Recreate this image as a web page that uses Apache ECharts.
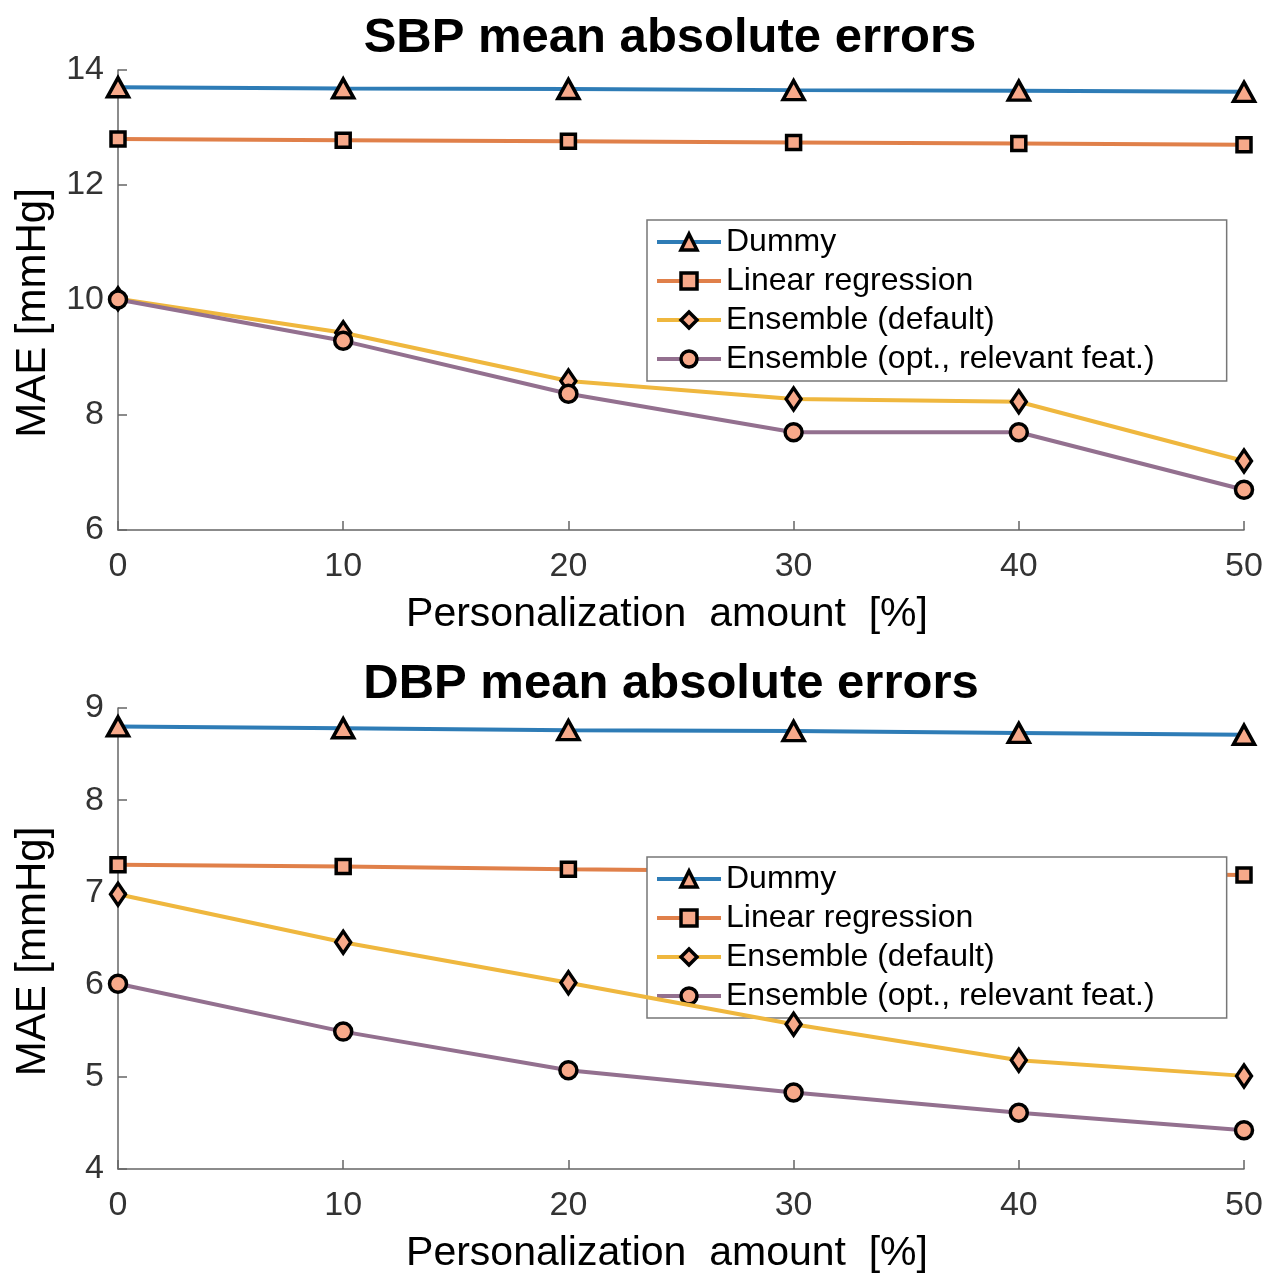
<!DOCTYPE html>
<html>
<head>
<meta charset="utf-8">
<script src="https://cdn.jsdelivr.net/npm/echarts@6/dist/echarts.min.js"></script>
<style>html,body{margin:0;padding:0;background:#fff}#c{width:1271px;height:1275px}</style>
</head>
<body>
<div id="c"></div>
<script>
const xValues = [0, 10, 20, 30, 40, 50];
const seriesNames = ['Dummy', 'Linear regression', 'Ensemble (default)', 'Ensemble (opt., relevant feat.)'];
// SBP panel
const sbpDummy = [13.70, 13.68, 13.67, 13.65, 13.64, 13.62];
const sbpLinear = [12.80, 12.78, 12.76, 12.74, 12.72, 12.70];
const sbpEnsDefault = [10.02, 9.43, 8.59, 8.28, 8.23, 7.20];
const sbpEnsOpt = [10.01, 9.29, 8.37, 7.70, 7.70, 6.70];
// DBP panel
const dbpDummy = [8.80, 8.78, 8.76, 8.75, 8.73, 8.71];
const dbpLinear = [7.30, 7.28, 7.25, 7.23, 7.21, 7.19];
const dbpEnsDefault = [6.98, 6.46, 6.02, 5.57, 5.18, 5.01];
const dbpEnsOpt = [6.01, 5.49, 5.07, 4.83, 4.61, 4.42];
const xTicks = [0, 10, 20, 30, 40, 50];
const sbpYTicks = [6, 8, 10, 12, 14];
const dbpYTicks = [4, 5, 6, 7, 8, 9];

const colors = ['#2e7cb6', '#e0804a', '#efb73e', '#93708f'];
const symbols = ['triangle', 'rect', 'diamond', 'circle'];
const symbolSizes = [[21, 19], 14, [15, 22], 17];
const FONT = '"Liberation Sans", Arial, sans-serif';

function pair(xs, ys) { return xs.map((x, i) => [x, ys[i]]); }

function mkSeries(idx, data, gi) {
  return {
    name: seriesNames[idx], type: 'line', xAxisIndex: gi, yAxisIndex: gi,
    data: pair(xValues, data),
    symbol: symbols[idx], symbolSize: symbolSizes[idx],
    lineStyle: { color: colors[idx], width: 4 },
    itemStyle: { color: '#f7a98a', borderColor: '#000', borderWidth: 3.5 },
    z: 2 + idx, animation: false
  };
}

function xAxis(gi) {
  return {
    gridIndex: gi, type: 'value', min: 0, max: 50, interval: 10,
    name: 'Personalization  amount  [%]', nameLocation: 'middle', nameGap: 64,
    nameTextStyle: { fontFamily: FONT, fontSize: 41, color: '#000', padding: [0, 28, 0, 0] },
    axisLine: { show: true, onZero: false, lineStyle: { color: '#666', width: 1.5 } },
    axisTick: { show: true, inside: true, length: 9, lineStyle: { color: '#666', width: 1.5 } },
    axisLabel: { fontFamily: FONT, fontSize: 34, color: '#333', margin: 20,
      formatter: v => xTicks.includes(v) ? String(v) : '' },
    splitLine: { show: false }
  };
}
function yAxis(gi, min, max, interval, ticks) {
  return {
    gridIndex: gi, type: 'value', min: min, max: max, interval: interval,
    name: 'MAE [mmHg]', nameLocation: 'middle', nameGap: 64,
    nameTextStyle: { fontFamily: FONT, fontSize: 42, color: '#000', padding: [0, 26, 0, 0] },
    axisLine: { show: true, lineStyle: { color: '#666', width: 1.5 } },
    axisTick: { show: true, inside: true, length: 9, lineStyle: { color: '#666', width: 1.5 } },
    axisLabel: { fontFamily: FONT, fontSize: 34, color: '#333', margin: 14,
      formatter: v => ticks.includes(v) ? String(v) : '' },
    splitLine: { show: false }
  };
}
function legend(top) {
  return {
    left: 647, top: top, orient: 'vertical',
    data: seriesNames,
    itemWidth: 64, itemHeight: 20, itemGap: 7,
    padding: [6, 72, 6, 8],
    backgroundColor: '#fff', borderColor: '#777', borderWidth: 1.5, borderRadius: 0,
    lineStyle: { width: 4 },
    itemStyle: { borderWidth: 3.5, borderColor: '#000' },
    textStyle: { fontFamily: FONT, fontSize: 32, color: '#000', lineHeight: 30 },
    selectedMode: false
  };
}

const chart = echarts.init(document.getElementById('c'), null, { renderer: 'canvas' });
chart.setOption({
  animation: false,
  backgroundColor: '#fff',
  title: [
    { text: 'SBP mean absolute errors', left: 665, top: 9, textAlign: 'center',
      textStyle: { fontFamily: FONT, fontSize: 49, fontWeight: 'bold', color: '#000' } },
    { text: 'DBP mean absolute errors', left: 666, top: 655, textAlign: 'center',
      textStyle: { fontFamily: FONT, fontSize: 49, fontWeight: 'bold', color: '#000' } }
  ],
  legend: [legend(220), legend(857)],
  grid: [
    { left: 118, width: 1126, top: 70, height: 460 },
    { left: 118, width: 1126, top: 708, height: 461 }
  ],
  xAxis: [xAxis(0), xAxis(1)],
  yAxis: [yAxis(0, 6, 14, 2, sbpYTicks), yAxis(1, 4, 9, 1, dbpYTicks)],
  series: [
    mkSeries(0, sbpDummy, 0), mkSeries(1, sbpLinear, 0), mkSeries(2, sbpEnsDefault, 0), mkSeries(3, sbpEnsOpt, 0),
    mkSeries(0, dbpDummy, 1), mkSeries(1, dbpLinear, 1), mkSeries(2, dbpEnsDefault, 1), mkSeries(3, dbpEnsOpt, 1)
  ]
});
</script>
</body>
</html>
